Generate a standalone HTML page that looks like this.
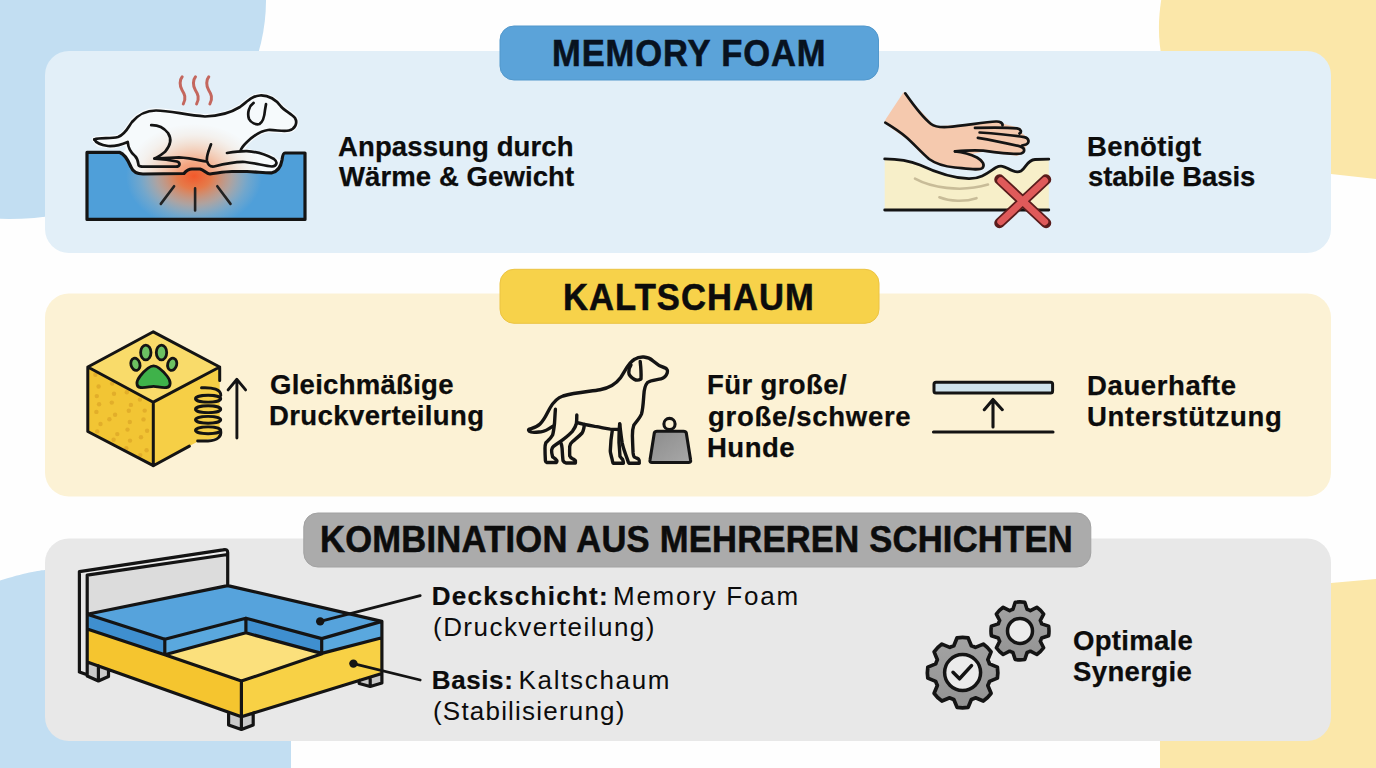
<!DOCTYPE html>
<html><head><meta charset="utf-8">
<style>
html,body{margin:0;padding:0;}
body{width:1376px;height:768px;overflow:hidden;position:relative;background:#fefefe;font-family:"Liberation Sans",sans-serif;color:#0c0c0c;}
svg{position:absolute;left:0;top:0;}
.ln{position:absolute;white-space:nowrap;}
</style></head>
<body>
<svg width="1376" height="768" viewBox="0 0 1376 768">
<defs>
<radialGradient id="heat" cx="0.5" cy="0.5" r="0.5">
<stop offset="0" stop-color="#f2592b" stop-opacity="1"/>
<stop offset="0.25" stop-color="#f2773e" stop-opacity="0.92"/>
<stop offset="0.55" stop-color="#eea57a" stop-opacity="0.6"/>
<stop offset="0.8" stop-color="#e8c0a0" stop-opacity="0.22"/>
<stop offset="1" stop-color="#e8c8b0" stop-opacity="0"/>
</radialGradient>
<linearGradient id="wt" x1="0" y1="0" x2="1" y2="1"><stop offset="0" stop-color="#8c8c8c"/><stop offset="1" stop-color="#a8a8a8"/></linearGradient>
<linearGradient id="gr" x1="0" y1="0" x2="0" y2="1"><stop offset="0" stop-color="#a3a3a3"/><stop offset="1" stop-color="#939393"/></linearGradient>
</defs>
<!-- background blobs -->
<ellipse cx="9" cy="0" rx="257" ry="219" fill="#c2def2"/>
<path d="M1162,-5 C1156,30 1158,60 1175,100 C1200,160 1260,172 1331,174 L1376,179 L1376,-5 Z" fill="#fbe7a9"/>
<path d="M1160,775 L1160,741 C1165,650 1230,590 1331,583 L1376,579 L1376,775 Z" fill="#fbe7a9"/>
<path d="M-5,582 C20,574 40,570 46,570 C200,560 285,640 291,741 L291,775 L-5,775 Z" fill="#c2def2"/>
<!-- panels -->
<rect x="45" y="51" width="1286" height="202" rx="24" fill="#e2eff8"/>
<rect x="45" y="293.5" width="1286" height="203" rx="24" fill="#fcf2d5"/>
<rect x="45" y="538.5" width="1286" height="202.5" rx="24" fill="#e8e8e8"/>
<!-- pills -->
<rect x="500" y="26" width="378.5" height="54" rx="14" fill="#5ba3d9" stroke="#5298cc" stroke-width="1"/>
<rect x="500" y="269.3" width="379" height="54" rx="14" fill="#f7d24a" stroke="#ecc443" stroke-width="1"/>
<rect x="303.8" y="513" width="787" height="54" rx="14" fill="#ababab" stroke="#a2a2a2" stroke-width="1"/>
<path d="M94.3,139.4 C100,137 110,139 118,137 C126,134 128,127 132,122 C138,115 146,110.5 156,110.5 C170,110.5 185,115 205,116.5 C222,116 232,112 240,107 C248,101 252,96 260,95.5 C270,95 276,100 281,106.5 C285,111 292,114 295,118 C298,123 295,129 289,130.5 C283,132 275,129.5 268,130 C259,131 252,137 246,143 L240.6,150.5 L246.8,151.1 L270.3,156.7 L277,161.7 L281.5,163 L282,166 L272,172.8 L247,171.5 L232,171.5 L210,174 L200,169 L192,169 L184,173.5 L143,174 L134.5,171.6 L131,167 L127,158 L124.5,154.5 L128.3,149.3 L127.7,141.9 L113.5,146.2 L98.6,144.4 Z" fill="#f5f9fc" stroke="#f8fbfd" stroke-width="5" stroke-linejoin="round"/>
<path d="M87,152.4 L119.6,152.4 C125,154 128,160 131,167 C133,172 137,174 143,174 L184,173.5 C186,171 188,169 192,169 L200,169 C204,170 207,174 210,174 C218,173 225,171.5 232,171.5 L247,171.5 C258,172 266,173 272,172.8 C279,171 281,166 282,160 C282.5,156 283,153 285,153 L305,153 L305,219.4 L87,219.4 Z" fill="#4f9fd9"/>
<clipPath id="gclip"><path d="M94.3,139.4 C100,137 110,139 118,137 C126,134 128,127 132,122 C138,115 146,110.5 156,110.5 C170,110.5 185,115 205,116.5 C222,116 232,112 240,107 C248,101 252,96 260,95.5 C270,95 276,100 281,106.5 C285,111 292,114 295,118 C298,123 295,129 289,130.5 C283,132 275,129.5 268,130 C259,131 252,137 246,143 L240.6,150.5 L246.8,151.1 L270.3,156.7 L277,161.7 L281.5,163 L282,166 L272,172.8 L247,171.5 L232,171.5 L210,174 L200,169 L192,169 L184,173.5 L143,174 L134.5,171.6 L131,167 L127,158 L124.5,154.5 L128.3,149.3 L127.7,141.9 L113.5,146.2 L98.6,144.4 Z"/><path d="M87,152.4 L119.6,152.4 C125,154 128,160 131,167 C133,172 137,174 143,174 L184,173.5 C186,171 188,169 192,169 L200,169 C204,170 207,174 210,174 C218,173 225,171.5 232,171.5 L247,171.5 C258,172 266,173 272,172.8 C279,171 281,166 282,160 C282.5,156 283,153 285,153 L305,153 L305,219.4 L87,219.4 Z"/></clipPath>
<ellipse cx="194" cy="176" rx="68" ry="52" fill="url(#heat)" clip-path="url(#gclip)"/>
<path d="M94.3,139.4 C100,137 110,139 118,137 C126,134 128,127 132,122 C138,115 146,110.5 156,110.5 C170,110.5 185,115 205,116.5 C222,116 232,112 240,107 C248,101 252,96 260,95.5 C270,95 276,100 281,106.5 C285,111 292,114 295,118 C298,123 295,129 289,130.5 C283,132 275,129.5 268,130 C259,131 252,137 246,143 L240.6,150.5 L246.8,151.1 L270.3,156.7 L277,161.7 L281.5,163 L282,166 L272,172.8 L247,171.5 L232,171.5 L210,174 L200,169 L192,169 L184,173.5 L143,174 L134.5,171.6 L131,167 L127,158 L124.5,154.5 L128.3,149.3 L127.7,141.9 L113.5,146.2 L98.6,144.4 Z" fill="#f8fbfd" fill-opacity="0.3"/>
<path d="M87,152.4 L119.6,152.4 C125,154 128,160 131,167 C133,172 137,174 143,174 L184,173.5 C186,171 188,169 192,169 L200,169 C204,170 207,174 210,174 C218,173 225,171.5 232,171.5 L247,171.5 C258,172 266,173 272,172.8 C279,171 281,166 282,160 C282.5,156 283,153 285,153 L305,153 L305,219.4 L87,219.4 Z" fill="none" stroke="#141414" stroke-width="3.2" stroke-linejoin="round"/>
<path d="M94.3,139.4 C100,137 110,139 118,137 C126,134 128,127 132,122 C138,115 146,110.5 156,110.5 C170,110.5 185,115 205,116.5 C222,116 232,112 240,107 C248,101 252,96 260,95.5 C270,95 276,100 281,106.5 C285,111 292,114 295,118 C298,123 295,129 289,130.5 C283,132 275,129.5 268,130 C259,131 252,137 246,143 C243,146 241,149 240.6,150.5" fill="none" stroke="#141414" stroke-width="2.7" stroke-linecap="round" stroke-linejoin="round"/>
<path d="M94.3,139.4 C96,143 101,145 108,146 C116,146.5 123,144 127.7,141.9 C128,146 130,152 135,156 C138,159 138,162 138.5,165 C139,166.5 141,166.7 144,166.7 L176,166.7 C180,166.5 181,163 177,161.5 C170,160 162,159 155,158.6" fill="none" stroke="#141414" stroke-width="2.7" stroke-linecap="round" stroke-linejoin="round"/>
<path d="M151.2,125.2 C158,125 164,128 168,133 C172,139 170,146 165,151.8 C161,155 158,157.5 154.3,158.6 L179,157.4 C190,158 198,160 206,161.5" fill="none" stroke="#141414" stroke-width="2.7" stroke-linecap="round" stroke-linejoin="round"/>
<path d="M211,144.3 C209,150 206,156 207,161 C208,165 210,167 214,166.5 C222,164.5 235,161.5 245,162 C255,163 265,166 272,166.5 C277,166 278,162 274,159 C265,154 255,151.5 246.8,151.1 C240,151 233,152 227,153" fill="none" stroke="#141414" stroke-width="2.7" stroke-linecap="round" stroke-linejoin="round"/>
<path d="M253.6,102.9 C249,106 247,113 249,119 C251,123 256,125 259.5,124 C263,122 264.5,116 265,110 L266,104.2" fill="none" stroke="#141414" stroke-width="2.7" stroke-linecap="round" stroke-linejoin="round"/>
<path d="M160.8,203.9 L174.1,186.2 M195.1,188.4 L195.1,210.5 M217.3,186.2 L230.5,203.9" stroke="#222" stroke-width="2.6" stroke-linecap="round"/>
<path d="M182.2,76.8 C179.5,80 179.5,86 182,90 C184.5,94 186.5,98 183.3,103.9" fill="none" stroke="#c4675e" stroke-width="3" stroke-linecap="round"/>
<path d="M195.5,76.8 C192.8,80 192.8,86 195.3,90 C197.8,94 199.8,98 196.60000000000002,103.9" fill="none" stroke="#c4675e" stroke-width="3" stroke-linecap="round"/>
<path d="M208.79999999999998,76.8 C206.1,80 206.1,86 208.6,90 C211.1,94 213.1,98 209.9,103.9" fill="none" stroke="#c4675e" stroke-width="3" stroke-linecap="round"/>
<path d="M884.7,158.9 C900,159 910,161 920,165 C935,172 950,178 968.7,178.7 C982,179 990,171 996,167.5 C1001,165 1004,166.5 1008,168.5 C1013,171.5 1017,173 1021,171 C1026,168 1027,160 1035,159.5 L1048.8,159.2 L1048.8,210 L884.7,210 Z" fill="#f7efc9"/>
<path d="M884.7,158.9 C900,159 910,161 920,165 C935,172 950,178 968.7,178.7 C982,179 990,171 996,167.5 C1001,165 1004,166.5 1008,168.5 C1013,171.5 1017,173 1021,171 C1026,168 1027,160 1035,159.5 L1048.8,159.2" fill="none" stroke="#141414" stroke-width="2.8" stroke-linecap="round"/>
<path d="M884.7,210 L1048.8,210" stroke="#141414" stroke-width="2.8" stroke-linecap="round"/>
<path d="M915,178.7 C930,187 960,193 988,184.6 M939.4,197.3 C950,201.5 965,202 976.5,198.2" fill="none" stroke="#c8bc98" stroke-width="2.6" stroke-linecap="round"/>
<path d="M887,119 L904,93.3 L918.7,110.3 L931.6,124.3 L938.6,127.3 L962.1,125.5 L997.2,121.4 L1002,124.5 L1020,129 L1020.5,133 L1026,138 L1028.3,141.5 L1025,146 L1023.6,151.3 L1017.1,154.8 L983.2,150.7 L969,153.5 L982,160.7 L983.2,167.7 L978.5,169.5 L950.3,166 L935.1,163 L922.2,153.6 L909.3,139.6 L885.3,122.6 Z" fill="#f5c9ae" stroke="#f5c9ae" stroke-width="2" stroke-linejoin="round"/>
<path d="M905.2,93.3 C912,103 922,117 931,124 C935,127 940,127.5 948,127 C965,125.5 985,122 996,121.5 C1000,121.3 1003,123 1002.5,125.5" fill="none" stroke="#141414" stroke-width="2.7" stroke-linecap="round" stroke-linejoin="round"/>
<path d="M975,127.9 C990,127.5 1008,127.5 1017,128.4 C1021,129 1022,132 1019.5,133.5" fill="none" stroke="#141414" stroke-width="2.7" stroke-linecap="round" stroke-linejoin="round"/>
<path d="M979.6,132.5 C995,133.5 1012,135 1024.2,137.2 C1029,138 1030,142.5 1026,144.5 L1022,145.5" fill="none" stroke="#141414" stroke-width="2.7" stroke-linecap="round" stroke-linejoin="round"/>
<path d="M977.9,137.8 C995,140.5 1010,144 1020.7,146.6 C1025,148 1025.5,152 1021,153.5 C1015,155 1000,153 983.2,150.7 C975,149.8 965,150.5 955,151.3" fill="none" stroke="#141414" stroke-width="2.7" stroke-linecap="round" stroke-linejoin="round"/>
<path d="M955,151.3 C962,152 970,154 977,157.5 C983,161 985,165 982.5,168 C979,170.5 970,169 955,167.5 C945,166.5 936,164 929,159 C921,152 913,143 906,137 C899,131 891,126 885.3,122.6" fill="none" stroke="#141414" stroke-width="2.7" stroke-linecap="round" stroke-linejoin="round"/>
<path d="M999.5,179.5 L1046,223 M1046,179.5 L999.5,223" stroke="#5a1c1c" stroke-width="10.5" stroke-linecap="round"/>
<path d="M1000.8,180.8 L1044.7,221.7 M1044.7,180.8 L1000.8,221.7" stroke="#df5a5a" stroke-width="7" stroke-linecap="round"/>
<polygon points="153.3,331.8 219.7,367 153.3,402.2 87.8,367" fill="#f9db6a"/>
<polygon points="87.8,367 153.3,402.2 153.3,465.7 87.8,431.5" fill="#f2c534"/>
<polygon points="153.3,402.2 219.7,367 219.7,437 197,442 189.4,446.1 153.3,465.7" fill="#f6cf46"/>
<g fill="#e2ae2a"><circle cx="95.4" cy="374.7" r="2.2"/><circle cx="112.1" cy="383.5" r="2.2"/><circle cx="126.8" cy="392.2" r="2.2"/><circle cx="139.9" cy="399.6" r="2.2"/><circle cx="98.6" cy="386.5" r="2.2"/><circle cx="114.0" cy="393.8" r="2.2"/><circle cx="130.9" cy="404.9" r="2.2"/><circle cx="144.7" cy="410.6" r="2.2"/><circle cx="96.8" cy="396.1" r="2.2"/><circle cx="111.8" cy="402.6" r="2.2"/><circle cx="128.8" cy="410.8" r="2.2"/><circle cx="143.5" cy="419.4" r="2.2"/><circle cx="99.1" cy="404.3" r="2.2"/><circle cx="115.1" cy="414.8" r="2.2"/><circle cx="129.8" cy="422.0" r="2.2"/><circle cx="147.1" cy="430.8" r="2.2"/><circle cx="96.4" cy="411.9" r="2.2"/><circle cx="109.4" cy="419.3" r="2.2"/><circle cx="127.5" cy="429.6" r="2.2"/><circle cx="141.0" cy="437.3" r="2.2"/><circle cx="100.5" cy="424.0" r="2.2"/><circle cx="117.3" cy="434.1" r="2.2"/><circle cx="130.0" cy="440.6" r="2.2"/><circle cx="146.6" cy="450.3" r="2.2"/><circle cx="97.2" cy="431.4" r="2.2"/><circle cx="113.6" cy="439.7" r="2.2"/><circle cx="126.3" cy="448.3" r="2.2"/><circle cx="140.3" cy="455.1" r="2.2"/></g>
<path d="M219.7,380.5 L219.7,367 L153.3,331.8 L87.8,367 L87.8,431.5 L153.3,465.7 L189.4,446.1 M87.8,367 L153.3,402.2 L219.7,367 M153.3,402.2 L153.3,465.7" fill="none" stroke="#141414" stroke-width="3" stroke-linejoin="round" stroke-linecap="round"/>
<g stroke="#141414" stroke-width="2.8" fill="#6cc062"><ellipse cx="145.8" cy="352.5" rx="5.2" ry="7.4"/><ellipse cx="161.5" cy="352.5" rx="5.2" ry="7.4"/><ellipse cx="135.4" cy="364.3" rx="4.5" ry="6.2" transform="rotate(-15 135.4 364.3)"/><ellipse cx="172.2" cy="364.3" rx="4.5" ry="6.2" transform="rotate(15 172.2 364.3)"/><path d="M153.6,365.8 C158.5,365.8 163,371 167,376 C171.5,381.5 171,387 166.5,387.5 C161,388 157,386.3 153.6,386.3 C150,386.3 146,388 140.5,387.5 C136,387 135.7,381.5 140.2,376 C144.2,371 148.7,365.8 153.6,365.8 Z" fill="#3fb24a"/></g>
<g fill="none" stroke="#141414" stroke-width="2.9" stroke-linecap="round"><path d="M201.5,387.8 C213,387.2 221,389.5 220.8,395.5"/><ellipse cx="208.1" cy="398.7" rx="12.6" ry="3.4"/><ellipse cx="208.1" cy="409.2" rx="12.6" ry="3.4"/><ellipse cx="208.1" cy="419.8" rx="12.6" ry="3.4"/><ellipse cx="208.1" cy="430.3" rx="12.6" ry="3.4"/><path d="M220.8,431.5 C221.5,436 218,440.5 208,441 L197.6,441"/></g>
<path d="M236.9,438 L236.9,379.5 M228.1,389.9 L236.9,379.3 L245.6,389.9" fill="none" stroke="#141414" stroke-width="2.9" stroke-linecap="round" stroke-linejoin="round"/>
<path d="M552.6,426.4 C548,429.5 545,431.5 542.1,431.6 C538,432 534,433 531,432 C528,431 528,429.5 530,429 C533,428 537,427 540,424 C545,419 547,413 550,408 C554,401 557,398 563,396 C575,392.5 590,391.5 600,389.8 C610,388 616,384 620.3,378.1 C625,371 629,362 634.4,359.4 C638,357 641,356.8 643.8,357 C648,357.3 651,359 653.1,360.9 C656,363.5 659,366 664,367.5 C667.5,368.5 668,371 667.2,373 C666,376.5 664.5,378 661,378.8 C657,379.8 650,380.5 647.5,382.5 C644.5,386 644,391 643.8,395.3 C643.3,402 643,409 641.5,414 C640,418 636,422 633.8,425.3 C632.5,429 632.3,432 632.4,435.7 C632.6,442 632.8,448 633.1,452.9 C633.4,456 634,457 634.5,457.1 C636,458 638,458.5 638.6,459.1 C639.5,460 639.5,462 639.3,463.3 L629,463.3 C628,462 627.8,460.5 627.6,459.8 C625,453 623,447 622.1,442.6 C621,436 620.5,430 619.7,424" fill="none" stroke="#141414" stroke-width="3.4" stroke-linecap="round" stroke-linejoin="round"/>
<path d="M619.7,424 C619,430 619,436 619,442.6 C619.5,449 619.8,453 620,456.4 C621,458 622.5,459 622.8,459.8 C623.3,461 623.4,462.3 623.4,463.3 L613.1,463.3 C612.5,461.5 612.2,460 612.1,459.1 C611,455 610.3,452 610.3,450.9 C610.5,443 611.5,435 612.4,429.8" fill="none" stroke="#141414" stroke-width="3.4" stroke-linecap="round" stroke-linejoin="round"/>
<path d="M577.3,422.6 C584,424.5 590,425.5 595,426.4 C602,427.5 606,428.8 610.3,429.1 L620,429.5" fill="none" stroke="#141414" stroke-width="3.4" stroke-linecap="round" stroke-linejoin="round"/>
<path d="M555.4,409.3 C555,414 554.8,419 554.5,423.5 C554,428 553.5,432 552.6,435 C550.5,439 547.5,441 545.9,442.6 C545,445 545,446.5 545,448.3 C545,452 545.2,457 545.4,460.6 C545.6,461.8 546,462.3 546.9,462.5 L556.4,462.5 C557,461.8 557,461 556.9,460.6 C555.5,458.5 553.5,457.5 552.6,456.8 C551.8,454 551.5,452 551.6,450.2 C552,448.5 552.5,447.2 553.5,446.4 C556.5,444 560,442 563,439.7 C567,436.5 570,434 572.6,431.1 C574.5,428.5 575.8,426 576.4,423.5 C576.8,420.5 576.8,418 576.8,415" fill="none" stroke="#141414" stroke-width="3.4" stroke-linecap="round" stroke-linejoin="round"/>
<path d="M584.4,424.5 C584,428 583.5,431 582.1,433 C579,436.5 575.5,439 572.6,441.6 C571,443 570,444.5 569.7,446.4 C569.6,450 569.6,453 569.7,455.9 C570.3,457.5 571.5,458.2 572.6,458.7 C574,459.5 575,460 575.4,460.6 L575.4,463 L565.9,463 C564.5,462.5 563.5,461.5 563,460.6 C562.5,456 562.3,452 562.1,448.3 C561.9,446 561.5,444.5 561.1,443.5" fill="none" stroke="#141414" stroke-width="3.4" stroke-linecap="round" stroke-linejoin="round"/>
<path d="M640.2,361.5 C640.8,367 641.3,374 641,379 C638.5,380.5 636,380.3 634.2,379.2 C630.5,377 628.8,374.5 628.8,372.5 C628.8,369.5 629.5,367 631,365" fill="none" stroke="#141414" stroke-width="3.4" stroke-linecap="round" stroke-linejoin="round"/>
<circle cx="669.5" cy="424" r="5.6" fill="none" stroke="#141414" stroke-width="3.1"/>
<path d="M657,431.3 L683.5,431.3 C685,431.3 686,432 686.3,433 L690.6,460 C691,461.8 690,462.5 688.5,462.5 L652,462.5 C650.5,462.5 649.6,461.8 650,460 L654.3,433 C654.6,432 655.5,431.3 657,431.3 Z" fill="url(#wt)" stroke="#141414" stroke-width="3.1" stroke-linejoin="round"/>
<rect x="934" y="382.3" width="118.6" height="10.6" rx="2" fill="#cfe3ec" stroke="#141414" stroke-width="3"/>
<path d="M993,427 L993,399.5 M984.3,409.7 L993,399.5 L1002.3,409.7 M933.5,432 L1053,432" fill="none" stroke="#141414" stroke-width="3.1" stroke-linecap="round" stroke-linejoin="round"/>
<path d="M953.85,645.69L957.09,637.83A35.2,35.2 0 0 1 968.11,637.83L971.35,645.69A28.3,28.3 0 0 1 975.45,647.38L983.29,644.12A35.2,35.2 0 0 1 991.08,651.91L987.82,659.75A28.3,28.3 0 0 1 989.51,663.85L997.37,667.09A35.2,35.2 0 0 1 997.37,678.11L989.51,681.35A28.3,28.3 0 0 1 987.82,685.45L991.08,693.29A35.2,35.2 0 0 1 983.29,701.08L975.45,697.82A28.3,28.3 0 0 1 971.35,699.51L968.11,707.37A35.2,35.2 0 0 1 957.09,707.37L953.85,699.51A28.3,28.3 0 0 1 949.75,697.82L941.91,701.08A35.2,35.2 0 0 1 934.12,693.29L937.38,685.45A28.3,28.3 0 0 1 935.69,681.35L927.83,678.11A35.2,35.2 0 0 1 927.83,667.09L935.69,663.85A28.3,28.3 0 0 1 937.38,659.75L934.12,651.91A35.2,35.2 0 0 1 941.91,644.12L949.75,647.38A28.3,28.3 0 0 1 953.85,645.69Z" fill="url(#gr)" stroke="#141414" stroke-width="3.7" stroke-linejoin="round"/>
<circle cx="962.6" cy="672.6" r="18" fill="#ebebeb" stroke="#141414" stroke-width="3.5"/>
<path d="M953,672.3 L959.5,678.8 L971.5,665.6" fill="none" stroke="#141414" stroke-width="3.5" stroke-linecap="round" stroke-linejoin="round"/>
<path d="M1012.95,609.22L1015.21,602.30A29,29 0 0 1 1024.79,602.30L1027.05,609.22A22.8,22.8 0 0 1 1030.35,610.59L1036.84,607.29A29,29 0 0 1 1043.61,614.06L1040.31,620.55A22.8,22.8 0 0 1 1041.68,623.85L1048.60,626.11A29,29 0 0 1 1048.60,635.69L1041.68,637.95A22.8,22.8 0 0 1 1040.31,641.25L1043.61,647.74A29,29 0 0 1 1036.84,654.51L1030.35,651.21A22.8,22.8 0 0 1 1027.05,652.58L1024.79,659.50A29,29 0 0 1 1015.21,659.50L1012.95,652.58A22.8,22.8 0 0 1 1009.65,651.21L1003.16,654.51A29,29 0 0 1 996.39,647.74L999.69,641.25A22.8,22.8 0 0 1 998.32,637.95L991.40,635.69A29,29 0 0 1 991.40,626.11L998.32,623.85A22.8,22.8 0 0 1 999.69,620.55L996.39,614.06A29,29 0 0 1 1003.16,607.29L1009.65,610.59A22.8,22.8 0 0 1 1012.95,609.22Z" fill="url(#gr)" stroke="#141414" stroke-width="3.6" stroke-linejoin="round"/>
<circle cx="1020" cy="630.9" r="12.5" fill="#ebebeb" stroke="#141414" stroke-width="3.5"/>
<polygon points="87.2,575.2 227.7,553 227.7,585.6 87.2,614.2" fill="#dcdcdc"/>
<polygon points="79.4,571.6 223,549.9 227.7,552.5 227.7,554.5 87.2,575.2" fill="#efefef"/>
<polygon points="79.4,571.6 87.2,575.2 87.2,674.8 79.4,672" fill="#e6e6e6"/>
<polygon points="87.2,662 108.5,669.5 108.5,676.5 98.4,681 87.2,676" fill="#c9c9c9"/>
<polygon points="228.6,712.5 241.4,716.7 253.2,712.8 253.2,725 241.4,729.4 228.6,725" fill="#c9c9c9"/>
<polygon points="359.2,680.4 381.9,673.5 381.9,683 370.2,686.5 359.2,683.5" fill="#c9c9c9"/>
<polygon points="87.2,629 164.8,654.7 241.4,681.1 241.4,716.7 87.2,662" fill="#f5c52f"/>
<polygon points="241.4,681.1 322,653.7 381.9,637.8 381.9,673.5 241.4,716.7" fill="#f8d145"/>
<polygon points="164.8,654.7 245.9,632.8 322,653.7 241.4,681.1" fill="#fbe07c"/>
<polygon points="87.2,614.2 227.7,585.6 381.9,621.4 321.7,638.6 245.9,618.2 164.8,639.2" fill="#56a3dc"/>
<polygon points="87.2,614.2 164.8,639.2 164.8,654.7 87.2,629" fill="#3f8fcf"/>
<polygon points="164.8,639.2 245.9,618.2 245.9,632.8 164.8,654.7" fill="#5aa8de"/>
<polygon points="245.9,618.2 321.7,638.6 321.7,653.4 245.9,632.8" fill="#3f8fcf"/>
<polygon points="321.7,638.6 381.9,621.4 381.9,637.8 321.7,653.4" fill="#5aa8de"/>
<path d="M79.4,672 L79.4,571.6 L223,549.9 C226,549 227.7,550 227.7,552.5 L227.7,585.6 M87.2,575.2 L227.7,554.5 M87.2,575.2 L87.2,674.8 L79.4,672 M87.2,614.2 L227.7,585.6 L381.9,621.4 L381.9,673.5 L241.4,716.7 L87.2,662 M87.2,614.2 L164.8,639.2 L245.9,618.2 L321.7,638.6 L381.9,621.4 M87.2,629 L164.8,654.7 L245.9,632.8 L321.7,653.4 L381.9,637.8 M164.8,639.2 L164.8,654.7 M245.9,618.2 L245.9,632.8 M321.7,638.6 L321.7,653.4 M164.8,654.7 L241.4,681.1 L322,653.7 M241.4,681.1 L241.4,716.7 M87.2,662 L87.2,676 L98.4,681 L108.5,676.5 L108.5,669.5 M98.4,681 L98.4,665.7 M228.6,712.5 L228.6,725 L241.4,729.4 L253.2,725 L253.2,712.8 M241.4,729.4 L241.4,716.7 M359.2,680.4 L359.2,683.5 L370.2,686.5 L381.9,683 L381.9,673.5 M370.2,686.5 L370.2,677" fill="none" stroke="#141414" stroke-width="3.2" stroke-linejoin="round" stroke-linecap="round"/>
<path d="M320.2,621.4 L420.2,595.6 M353.4,663.6 L420.2,680" stroke="#141414" stroke-width="2.8" stroke-linecap="round"/>
<circle cx="320.2" cy="621.4" r="4.2" fill="#141414"/><circle cx="353.4" cy="663.6" r="4.2" fill="#141414"/>
</svg>

<div id="memory" class="ln" style="color:#08121f;left:552.00px;top:35.83px;font-size:36px;line-height:36px;font-weight:700;letter-spacing:0.900px;-webkit-text-stroke:0.55px currentColor;transform:scaleX(0.96);transform-origin:0 0;">MEMORY FOAM</div>
<div id="kalt" class="ln" style="left:563.40px;top:279.53px;font-size:36px;line-height:36px;font-weight:700;letter-spacing:1.111px;-webkit-text-stroke:0.55px currentColor;transform:scaleX(0.96);transform-origin:0 0;">KALTSCHAUM</div>
<div id="komb" class="ln" style="left:320.20px;top:522.13px;font-size:36px;line-height:36px;font-weight:700;letter-spacing:0.242px;-webkit-text-stroke:0.55px currentColor;transform:scaleX(0.96);transform-origin:0 0;">KOMBINATION AUS MEHREREN SCHICHTEN</div>
<div id="anp1" class="ln" style="left:337.60px;top:131.76px;font-size:28.4px;line-height:28.4px;font-weight:700;letter-spacing:0.107px;-webkit-text-stroke:0.25px currentColor;transform:scaleX(0.97);transform-origin:0 0;">Anpassung durch</div>
<div id="anp2" class="ln" style="left:339.00px;top:162.16px;font-size:28.4px;line-height:28.4px;font-weight:700;letter-spacing:0.071px;-webkit-text-stroke:0.25px currentColor;transform:scaleX(0.97);transform-origin:0 0;">Wärme &amp; Gewicht</div>
<div id="ben1" class="ln" style="left:1086.60px;top:131.66px;font-size:28.4px;line-height:28.4px;font-weight:700;letter-spacing:0.357px;-webkit-text-stroke:0.25px currentColor;transform:scaleX(0.97);transform-origin:0 0;">Benötigt</div>
<div id="ben2" class="ln" style="left:1087.60px;top:161.96px;font-size:28.4px;line-height:28.4px;font-weight:700;letter-spacing:-0.083px;-webkit-text-stroke:0.25px currentColor;transform:scaleX(0.97);transform-origin:0 0;">stabile Basis</div>
<div id="gl1" class="ln" style="left:269.80px;top:370.26px;font-size:28.4px;line-height:28.4px;font-weight:700;letter-spacing:0.273px;-webkit-text-stroke:0.25px currentColor;transform:scaleX(0.97);transform-origin:0 0;">Gleichmäßige</div>
<div id="gl2" class="ln" style="left:269.00px;top:401.46px;font-size:28.4px;line-height:28.4px;font-weight:700;letter-spacing:0.393px;-webkit-text-stroke:0.25px currentColor;transform:scaleX(0.97);transform-origin:0 0;">Druckverteilung</div>
<div id="fu1" class="ln" style="left:706.80px;top:370.36px;font-size:28.4px;line-height:28.4px;font-weight:700;letter-spacing:0.389px;-webkit-text-stroke:0.25px currentColor;transform:scaleX(0.97);transform-origin:0 0;">Für große/</div>
<div id="fu2" class="ln" style="left:707.80px;top:401.56px;font-size:28.4px;line-height:28.4px;font-weight:700;letter-spacing:0.708px;-webkit-text-stroke:0.25px currentColor;transform:scaleX(0.97);transform-origin:0 0;">große/schwere</div>
<div id="fu3" class="ln" style="left:706.80px;top:432.66px;font-size:28.4px;line-height:28.4px;font-weight:700;letter-spacing:0.500px;-webkit-text-stroke:0.25px currentColor;transform:scaleX(0.97);transform-origin:0 0;">Hunde</div>
<div id="da1" class="ln" style="left:1086.80px;top:370.86px;font-size:28.4px;line-height:28.4px;font-weight:700;letter-spacing:0.611px;-webkit-text-stroke:0.25px currentColor;transform:scaleX(0.97);transform-origin:0 0;">Dauerhafte</div>
<div id="da2" class="ln" style="left:1086.80px;top:401.86px;font-size:28.4px;line-height:28.4px;font-weight:700;letter-spacing:0.708px;-webkit-text-stroke:0.25px currentColor;transform:scaleX(0.97);transform-origin:0 0;">Unterstützung</div>
<div id="op1" class="ln" style="left:1072.60px;top:626.36px;font-size:28.4px;line-height:28.4px;font-weight:700;letter-spacing:0.286px;-webkit-text-stroke:0.25px currentColor;transform:scaleX(0.97);transform-origin:0 0;">Optimale</div>
<div id="op2" class="ln" style="left:1072.60px;top:657.46px;font-size:28.4px;line-height:28.4px;font-weight:700;letter-spacing:0.357px;-webkit-text-stroke:0.25px currentColor;transform:scaleX(0.97);transform-origin:0 0;">Synergie</div>
<div id="dk1" class="ln" style="left:431.80px;top:583.29px;font-size:26px;line-height:26px;font-weight:700;letter-spacing:1.273px;-webkit-text-stroke:0.2px currentColor;">Deckschicht:</div>
<div id="dk2" class="ln" style="left:613.00px;top:583.29px;font-size:26px;line-height:26px;font-weight:400;letter-spacing:1.750px;">Memory Foam</div>
<div id="bs1" class="ln" style="left:431.80px;top:666.99px;font-size:26px;line-height:26px;font-weight:700;letter-spacing:0.600px;-webkit-text-stroke:0.2px currentColor;">Basis:</div>
<div id="bs2" class="ln" style="left:518.60px;top:666.99px;font-size:26px;line-height:26px;font-weight:400;letter-spacing:1.667px;">Kaltschaum</div>
<div id="dv" class="ln" style="left:433.00px;top:614.39px;font-size:26px;line-height:26px;font-weight:400;letter-spacing:1.469px;">(Druckverteilung)</div>
<div id="st" class="ln" style="left:433.00px;top:698.49px;font-size:26px;line-height:26px;font-weight:400;letter-spacing:1.200px;">(Stabilisierung)</div>
</body></html>
